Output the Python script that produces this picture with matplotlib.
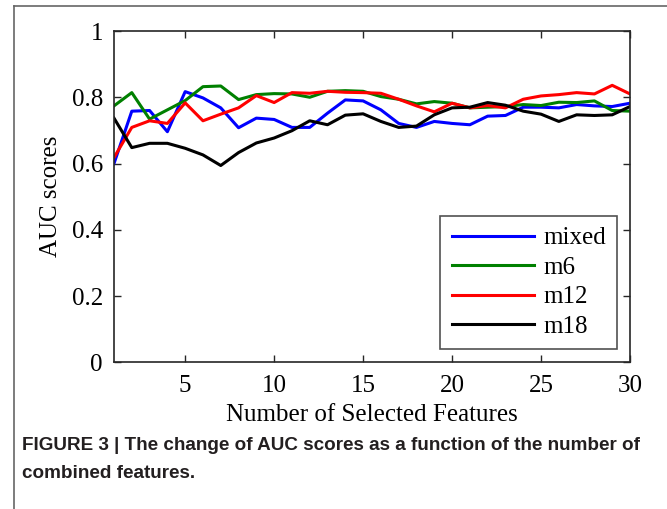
import matplotlib
matplotlib.use("Agg")
import matplotlib.pyplot as plt
from matplotlib.lines import Line2D

features = list(range(1, 31))
mixed = [0.600, 0.758, 0.760, 0.696, 0.817, 0.798, 0.768, 0.708, 0.737, 0.733,
         0.709, 0.709, 0.752, 0.792, 0.789, 0.762, 0.721, 0.709, 0.727, 0.721,
         0.717, 0.743, 0.745, 0.770, 0.770, 0.768, 0.778, 0.774, 0.772, 0.782]
m6 = [0.774, 0.814, 0.734, 0.762, 0.790, 0.832, 0.834, 0.793, 0.808, 0.811,
      0.810, 0.800, 0.818, 0.820, 0.818, 0.802, 0.794, 0.780, 0.787, 0.782,
      0.768, 0.770, 0.772, 0.778, 0.775, 0.785, 0.784, 0.789, 0.760, 0.758]
m12 = [0.618, 0.709, 0.729, 0.721, 0.783, 0.729, 0.749, 0.768, 0.805, 0.784,
       0.814, 0.812, 0.818, 0.815, 0.814, 0.812, 0.794, 0.774, 0.756, 0.782,
       0.768, 0.775, 0.768, 0.794, 0.804, 0.808, 0.814, 0.810, 0.836, 0.810]
m18 = [0.737, 0.648, 0.661, 0.661, 0.646, 0.626, 0.594, 0.633, 0.662, 0.677,
       0.699, 0.729, 0.717, 0.746, 0.750, 0.727, 0.709, 0.713, 0.747, 0.768,
       0.770, 0.784, 0.776, 0.758, 0.749, 0.727, 0.747, 0.745, 0.747, 0.772]

series_names = ["mixed", "m6", "m12", "m18"]
series_colors = ["#0000ff", "#008000", "#ff0000", "#000000"]
x_ticks = [5, 10, 15, 20, 25, 30]
y_ticks = [0, 0.2, 0.4, 0.6, 0.8, 1]
y_tick_labels = ["0", "0.2", "0.4", "0.6", "0.8", "1"]

serif = ["Liberation Serif", "DejaVu Serif"]

fig = plt.figure(figsize=(6.67, 5.09), dpi=100)
ax = fig.add_axes([114/667, 1-362.3/509, (630-114)/667, (362.3-31)/509])

for name, vals, col in zip(series_names, [mixed, m6, m12, m18], series_colors):
    ax.plot(features, vals, color=col, lw=2.2, label=name)

ax.set_xlim(1, 30)
ax.set_ylim(0, 1)
ax.set_xticks(x_ticks)
ax.set_yticks(y_ticks)
ax.set_yticklabels(y_tick_labels)
ax.tick_params(direction="in", top=True, right=True, length=5, width=1,
               labelsize=18, colors="#262626", pad=8)
ax.tick_params(axis="x", pad=9.5)
for lab in ax.get_xticklabels() + ax.get_yticklabels():
    lab.set_family(serif)
    lab.set_color("black")
for sp in ax.spines.values():
    sp.set_color("#262626")
    sp.set_linewidth(1.2)

ax.set_xlabel("Number of Selected Features", fontsize=18, family=serif, labelpad=5)
ax.set_ylabel("AUC scores", fontsize=18, family=serif, labelpad=7)

leg = ax.legend(loc="lower right", bbox_to_anchor=(0.975, 0.040),
                prop={"family": serif, "size": 18}, frameon=True, fancybox=False,
                edgecolor="#262626", handlelength=3.3, labelspacing=0.28,
                borderpad=0.45, handletextpad=0.36, borderaxespad=0)
leg.get_frame().set_linewidth(1.2)

# figure border (partial frame)
bx = 14/667
by = 1 - 6/509
fig.add_artist(Line2D([bx, bx], [0, by], transform=fig.transFigure, color="#666666", lw=1.2))
fig.add_artist(Line2D([bx, 1], [by, by], transform=fig.transFigure, color="#666666", lw=1.2))

cap_font = ["Liberation Sans", "DejaVu Sans"]
fig.text(22/667, 1-445/509, "FIGURE 3 | The change of AUC scores as a function of the number of",
         fontsize=13.6, fontweight="bold", family=cap_font, color="#231f20", va="center")
fig.text(22/667, 1-473/509, "combined features.",
         fontsize=13.6, fontweight="bold", family=cap_font, color="#231f20", va="center")

fig.savefig("out.png", dpi=100)
